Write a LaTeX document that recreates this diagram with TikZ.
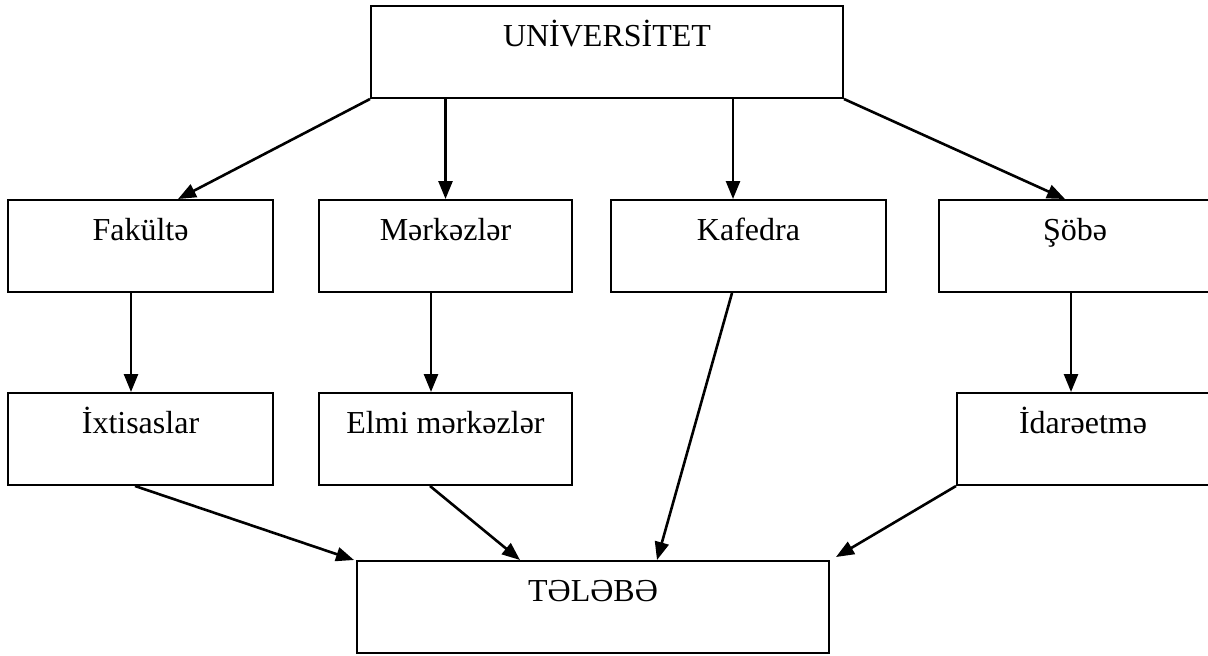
\documentclass[tikz,border=0pt]{standalone}
\usepackage{fontspec}
\setmainfont{Liberation Serif}
\usetikzlibrary{arrows.meta,calc}

\begin{document}
\begin{tikzpicture}[
  x=0.5pt, y=-0.5pt,
  box/.style={draw, line width=1pt, rectangle, inner sep=0pt,
    text height=20.25pt, text depth=25.75pt, align=center,
    font=\fontsize{16}{19}\selectfont},
  arr/.style={line width=1.3pt, -{Triangle[length=9pt,width=7pt]}}
]
\useasboundingbox (0,0) rectangle (1208,655);

% top level
\node[box, minimum width=236pt] (uni) at (607,52) {UNİVERSİTET};

% second row
\node[box, minimum width=132.5pt] (fak) at (140.5,246) {Fakültə};
\node[box, minimum width=126.5pt] (mer) at (445.5,246) {Mərkəzlər};
\node[box, minimum width=137.5pt] (kaf) at (748.5,246) {Kafedra};
\node[box, minimum width=136pt]   (sob) at (1075,246) {Şöbə};

% third row
\node[box, minimum width=132.5pt] (ixt) at (140.5,439) {İxtisaslar};
\node[box, minimum width=126.5pt] (elm) at (445.5,439) {Elmi mərkəzlər};
\node[box, minimum width=126pt]   (ida) at (1083,439) {İdarəetmə};

% bottom
\node[box, minimum width=236pt] (tel) at (593,607) {TƏLƏBƏ};

% attachment points
\coordinate (fakIn)  at ($(fak.north)+(37.5,0)$);
\coordinate (kafIn)  at ($(kaf.north)+(-15.5,0)$);
\coordinate (sobIn)  at ($(sob.north)+(-10,0)$);
\coordinate (fakOut) at ($(fak.south)+(-9.5,0)$);
\coordinate (merOut) at ($(mer.south)+(-14.5,0)$);
\coordinate (sobOut) at ($(sob.south)+(-4,0)$);
\coordinate (ixtOut) at ($(ixt.south)+(-5.5,0)$);
\coordinate (elmOut) at ($(elm.south)+(-15.5,0)$);
\coordinate (kafOut) at ($(kaf.south)+(-16.5,0)$);
\coordinate (telA)   at ($(tel.north west)+(-2,0)$);
\coordinate (telB)   at ($(tel.north)+(-73,0)$);
\coordinate (telC)   at ($(tel.north)+(64,0)$);
\coordinate (telD)   at ($(tel.north east)+(6,-3)$);

% university to units
\draw[arr] (uni.south west) -- (fakIn);
\draw[arr] (uni.south -| mer.north) -- (mer.north);
\draw[arr] (uni.south -| kafIn) -- (kafIn);
\draw[arr] (uni.south east) -- (sobIn);

% units to sub-units
\draw[arr] (fakOut) -- (fakOut |- ixt.north);
\draw[arr] (merOut) -- (merOut |- elm.north);
\draw[arr] (sobOut) -- (sobOut |- ida.north);

% everything leads to the student
\draw[arr] (ixtOut) -- (telA);
\draw[arr] (elmOut) -- (telB);
\draw[arr] (kafOut) -- (telC);
\draw[arr] (ida.south west) -- (telD);
\end{tikzpicture}
\end{document}
